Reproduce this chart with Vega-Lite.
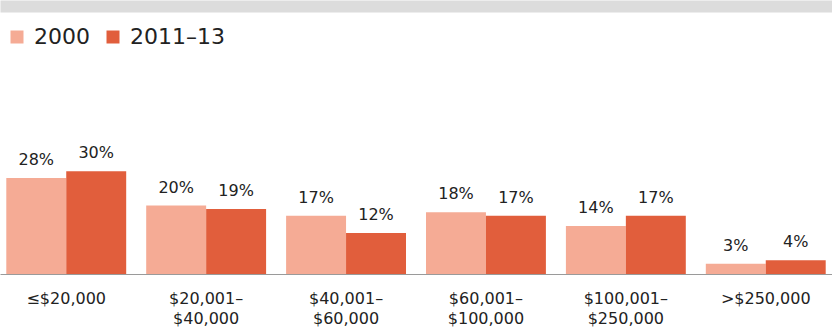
{
  "$schema": "https://vega.github.io/schema/vega-lite/v6.json",
  "width": 832,
  "height": 328,
  "autosize": {"type": "fit", "contains": "padding"},
  "padding": 0,
  "background": "#ffffff",
  "config": {"view": {"stroke": null}, "font": "DejaVu Sans"},
  "data": {
    "values": [
      {"bracket": "≤$20,000", "year": "2000", "share": 0.28},
      {"bracket": "≤$20,000", "year": "2011–13", "share": 0.30},
      {"bracket": "$20,001–|$40,000", "year": "2000", "share": 0.20},
      {"bracket": "$20,001–|$40,000", "year": "2011–13", "share": 0.19},
      {"bracket": "$40,001–|$60,000", "year": "2000", "share": 0.17},
      {"bracket": "$40,001–|$60,000", "year": "2011–13", "share": 0.12},
      {"bracket": "$60,001–|$100,000", "year": "2000", "share": 0.18},
      {"bracket": "$60,001–|$100,000", "year": "2011–13", "share": 0.17},
      {"bracket": "$100,001–|$250,000", "year": "2000", "share": 0.14},
      {"bracket": "$100,001–|$250,000", "year": "2011–13", "share": 0.17},
      {"bracket": ">$250,000", "year": "2000", "share": 0.03},
      {"bracket": ">$250,000", "year": "2011–13", "share": 0.04}
    ]
  },
  "encoding": {
    "xOffset": {"field": "year", "type": "nominal"},
    "y": {
      "field": "share",
      "type": "quantitative",
      "scale": {"domain": [0, 0.8], "nice": false, "zero": true},
      "axis": null
    }
  },
  "layer": [
    {
      "mark": {"type": "bar"},
      "encoding": {
        "x": {
          "field": "bracket",
          "type": "nominal",
          "sort": null,
          "scale": {"paddingInner": 0.143, "paddingOuter": 0.045},
          "axis": {
            "orient": "bottom",
            "title": null,
            "labelAngle": 0,
            "labelExpr": "split(datum.label, '|')",
            "labelFontSize": 16,
            "labelColor": "#222222",
            "labelLineHeight": 20,
            "labelPadding": 16,
            "minExtent": 54,
            "maxExtent": 54,
            "ticks": false,
            "domainColor": "#9a9a9a",
            "domainWidth": 1
          }
        },
        "color": {
          "field": "year",
          "type": "nominal",
          "scale": {"domain": ["2000", "2011–13"], "range": ["#F5AB95", "#E15E3C"]},
          "legend": {
            "title": null,
            "orient": "none",
            "legendX": 6,
            "legendY": 26,
            "direction": "horizontal",
            "symbolType": "square",
            "symbolSize": 169,
            "symbolStrokeWidth": 0,
            "labelFontSize": 22,
            "labelColor": "#222222",
            "columnPadding": 12,
            "labelOffset": 6
          }
        }
      }
    },
    {
      "mark": {"type": "text", "baseline": "bottom", "dy": -10, "fontSize": 16, "color": "#222222"},
      "encoding": {
        "x": {
          "field": "bracket",
          "type": "nominal",
          "sort": null,
          "axis": {
            "orient": "top",
            "title": null,
            "labels": false,
            "ticks": false,
            "grid": false,
            "offset": -6,
            "domainColor": "#dcdcdc",
            "domainWidth": 12
          }
        },
        "text": {"field": "share", "type": "quantitative", "format": ".0%"}
      }
    }
  ],
  "resolve": {"axis": {"x": "independent"}}
}
